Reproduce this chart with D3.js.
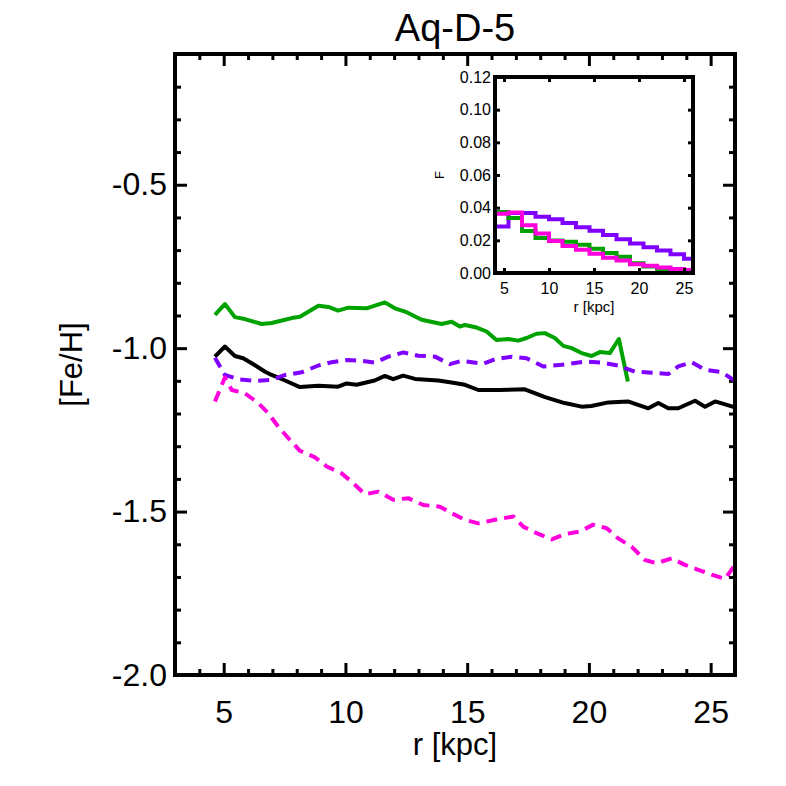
<!DOCTYPE html>
<html>
<head>
<meta charset="utf-8">
<script src="https://cdn.jsdelivr.net/npm/d3@7.9.0/dist/d3.min.js"></script>
<style>
  body { margin: 0; background: #fff; }
  svg { display: block; font-family: "Liberation Sans", Arial, sans-serif; }
  .domain { display: none; }
</style>
</head>
<body>
<svg id="chart" width="786" height="786"></svg>
<script>
// main panel: [Fe/H] profiles vs radius
const blackR = [4.64, 5.05, 5.46, 5.8, 6.15, 6.7, 6.97, 7.52, 8.13, 8.89, 9.7, 10.05, 10.46, 11.2, 11.62, 11.96, 12.37, 12.86, 13.81, 14.36, 14.91, 15.46, 16.28, 17.37, 18.2, 19.0, 19.7, 20.1, 20.8, 21.6, 22.44, 22.85, 23.26, 23.67, 24.36, 24.77, 25.18, 26.0];
const blackFeH = [-1.026, -0.995, -1.024, -1.031, -1.046, -1.072, -1.082, -1.099, -1.119, -1.115, -1.118, -1.108, -1.112, -1.099, -1.085, -1.095, -1.084, -1.094, -1.099, -1.105, -1.112, -1.128, -1.128, -1.126, -1.15, -1.168, -1.179, -1.177, -1.166, -1.163, -1.184, -1.168, -1.184, -1.184, -1.161, -1.179, -1.163, -1.181];

const greenR = [4.64, 5.05, 5.46, 5.87, 6.56, 6.97, 7.52, 7.79, 8.13, 8.89, 9.3, 9.7, 10.12, 10.87, 11.62, 12.03, 12.45, 13.13, 13.95, 14.36, 14.7, 14.91, 15.39, 15.8, 16.2, 16.69, 17.1, 17.44, 17.85, 18.19, 18.6, 18.95, 19.29, 19.7, 20.11, 20.45, 20.86, 21.23, 21.6];
const greenFeH = [-0.898, -0.865, -0.905, -0.911, -0.926, -0.923, -0.913, -0.908, -0.904, -0.87, -0.874, -0.885, -0.876, -0.878, -0.86, -0.878, -0.888, -0.913, -0.926, -0.919, -0.934, -0.929, -0.937, -0.949, -0.975, -0.972, -0.977, -0.969, -0.956, -0.954, -0.969, -0.993, -1.0, -1.015, -1.024, -1.012, -1.015, -0.972, -1.102];

const purpleR = [4.64, 5.05, 5.6, 6.29, 6.97, 7.52, 8.2, 8.89, 9.43, 10.12, 10.67, 11.21, 11.76, 12.38, 12.99, 13.68, 14.29, 14.77, 15.66, 16.14, 16.83, 17.44, 18.13, 18.88, 19.84, 20.52, 21.2, 21.89, 22.58, 23.26, 23.67, 24.22, 24.77, 25.45, 26.0];
const purpleFeH = [-1.029, -1.082, -1.095, -1.1, -1.097, -1.082, -1.074, -1.053, -1.043, -1.036, -1.039, -1.044, -1.026, -1.013, -1.023, -1.026, -1.049, -1.039, -1.048, -1.034, -1.026, -1.031, -1.056, -1.051, -1.041, -1.044, -1.053, -1.072, -1.075, -1.079, -1.056, -1.043, -1.066, -1.073, -1.1];

const magentaR = [4.64, 5.05, 5.33, 5.87, 6.42, 6.83, 7.24, 7.72, 8.13, 8.75, 9.23, 9.84, 10.32, 10.8, 11.35, 11.96, 12.58, 13.2, 13.88, 14.36, 14.91, 15.46, 16.14, 16.9, 17.3, 17.85, 18.47, 19.02, 19.63, 20.18, 20.73, 21.2, 21.75, 22.3, 22.78, 23.4, 23.94, 24.49, 25.04, 25.59, 26.0];
const magentaFeH = [-1.163, -1.09, -1.128, -1.138, -1.168, -1.199, -1.24, -1.281, -1.314, -1.334, -1.362, -1.383, -1.413, -1.447, -1.439, -1.464, -1.459, -1.48, -1.485, -1.505, -1.525, -1.536, -1.525, -1.515, -1.546, -1.566, -1.585, -1.569, -1.561, -1.54, -1.551, -1.582, -1.607, -1.648, -1.658, -1.643, -1.663, -1.678, -1.693, -1.706, -1.663];

const xMajor = [5, 10, 15, 20, 25];
const xMinor = [4, 6, 7, 8, 9, 11, 12, 13, 14, 16, 17, 18, 19, 21, 22, 23, 24, 26];
const yMajor = [-2.0, -1.5, -1.0, -0.5];
const yMinor = [-1.9, -1.8, -1.7, -1.6, -1.4, -1.3, -1.2, -1.1, -0.9, -0.8, -0.7, -0.6, -0.4, -0.3, -0.2];

// inset: radial distribution F (step histograms)
const histEdges = [4.0, 5.5, 7.0, 8.5, 10.0, 11.5, 13.0, 14.5, 16.0, 17.5, 19.0, 20.5, 22.0, 23.5, 25.0, 26.5];
const histPurple = [0.0285, 0.0367, 0.0367, 0.0344, 0.0329, 0.0306, 0.028, 0.0258, 0.0233, 0.0207, 0.018, 0.0157, 0.0138, 0.0115, 0.0088];
const histGreen = [0.0374, 0.0337, 0.0257, 0.0214, 0.0199, 0.0191, 0.0173, 0.0148, 0.0123, 0.01, 0.006, 0.004, 0.0024, 0.0009, 0.0006];
const histMagenta = [0.0362, 0.037, 0.0293, 0.0242, 0.0196, 0.0166, 0.0143, 0.0118, 0.0094, 0.0077, 0.0054, 0.0044, 0.0034, 0.0024, 0.0019];
const insetXTicks = [5, 10, 15, 20, 25];
const insetYTicks = [0.0, 0.02, 0.04, 0.06, 0.08, 0.10, 0.12];

const GREEN = '#00a200', PURPLE = '#8000ff', MAGENTA = '#ff00dc';

// IDL-style labels use a plain hyphen for the minus sign
const hyphen = f => v => f(v).replace('\u2212', '-');

const svg = d3.select('#chart');
svg.append('rect').attr('width', 786).attr('height', 786).attr('fill', '#fff');

// ---------- main panel ----------
const L = 175, R = 735, T = 54, B = 675;
const x = d3.scaleLinear().domain([3, 26]).range([L, R]);
const y = d3.scaleLinear().domain([-2.0, -0.1]).range([B, T]);

svg.append('clipPath').attr('id', 'clipMain')
  .append('rect').attr('x', L).attr('y', T).attr('width', R - L).attr('height', B - T);

function tickAxis(axisFn, scale, values, size, transform, fmt, pad, fontSize) {
  const g = svg.append('g').attr('transform', transform)
    .call(axisFn(scale).tickValues(values).tickSize(-size)
      .tickPadding(pad || 0).tickFormat(fmt || (() => '')));
  g.selectAll('.tick line').attr('stroke', '#000').attr('stroke-width', 3);
  g.selectAll('.tick text').attr('fill', '#000').attr('font-size', fontSize || 32);
  return g;
}

tickAxis(d3.axisBottom, x, xMajor, 12, `translate(0,${B})`, d3.format('d'), 25, 32);
tickAxis(d3.axisBottom, x, xMinor, 6, `translate(0,${B})`);
tickAxis(d3.axisTop, x, xMajor, 12, `translate(0,${T})`);
tickAxis(d3.axisTop, x, xMinor, 6, `translate(0,${T})`);
tickAxis(d3.axisLeft, y, yMajor, 12, `translate(${L},0)`, hyphen(d3.format('.1f')), 8, 32);
tickAxis(d3.axisLeft, y, yMinor, 6, `translate(${L},0)`);
tickAxis(d3.axisRight, y, yMajor, 12, `translate(${R},0)`);
tickAxis(d3.axisRight, y, yMinor, 6, `translate(${R},0)`);

const mainLine = d3.line().x(d => x(d[0])).y(d => y(d[1]));
const plotG = svg.append('g').attr('clip-path', 'url(#clipMain)');
const series = [
  { r: blackR, v: blackFeH, color: '#000', dash: null },
  { r: greenR, v: greenFeH, color: GREEN, dash: null },
  { r: purpleR, v: purpleFeH, color: PURPLE, dash: '11,7' },
  { r: magentaR, v: magentaFeH, color: MAGENTA, dash: '11,7' }
];
series.forEach(s => {
  plotG.append('path')
    .datum(d3.zip(s.r, s.v))
    .attr('d', mainLine)
    .attr('fill', 'none')
    .attr('stroke', s.color)
    .attr('stroke-width', 4)
    .attr('stroke-linejoin', 'round')
    .attr('stroke-dasharray', s.dash);
});

svg.append('rect').attr('x', L).attr('y', T).attr('width', R - L).attr('height', B - T)
  .attr('fill', 'none').attr('stroke', '#000').attr('stroke-width', 4);

svg.append('text').attr('x', (L + R) / 2).attr('y', 41).attr('text-anchor', 'middle')
  .attr('font-size', 38).text('Aq-D-5');
svg.append('text').attr('x', (L + R) / 2).attr('y', 755).attr('text-anchor', 'middle')
  .attr('font-size', 31).text('r [kpc]');
svg.append('text').attr('transform', `translate(82,${(T + B) / 2}) rotate(-90)`)
  .attr('text-anchor', 'middle').attr('font-size', 31).text('[Fe/H]');

// ---------- inset ----------
const iL = 495, iR = 693, iT = 77, iB = 273;
const ix = d3.scaleLinear().domain([4, 26]).range([iL, iR]);
const iy = d3.scaleLinear().domain([0, 0.12]).range([iB, iT]);

svg.append('clipPath').attr('id', 'clipInset')
  .append('rect').attr('x', iL).attr('y', iT - 2).attr('width', iR - iL).attr('height', iB - iT + 2);

const insetG = svg.append('g').attr('clip-path', 'url(#clipInset)');
const stepLine = d3.line().x(d => ix(d[0])).y(d => iy(d[1])).curve(d3.curveStepAfter);
[[histPurple, PURPLE], [histGreen, GREEN], [histMagenta, MAGENTA]].forEach(([vals, color]) => {
  const pts = [[histEdges[0], 0]].concat(vals.map((v, i) => [histEdges[i], v]))
    .concat([[histEdges[histEdges.length - 1], vals[vals.length - 1]]]);
  insetG.append('path').datum(pts).attr('d', stepLine)
    .attr('fill', 'none').attr('stroke', color).attr('stroke-width', 4);
});

function insetAxis(axisFn, scale, values, transform, fmt, pad) {
  const g = svg.append('g').attr('transform', transform)
    .call(axisFn(scale).tickValues(values).tickSize(-5)
      .tickPadding(pad || 0).tickFormat(fmt || (() => '')));
  g.selectAll('.tick line').attr('stroke', '#000').attr('stroke-width', 3);
  g.selectAll('.tick text').attr('fill', '#000').attr('font-size', 16);
}
insetAxis(d3.axisBottom, ix, insetXTicks, `translate(0,${iB})`, d3.format('d'), 10);
insetAxis(d3.axisTop, ix, insetXTicks, `translate(0,${iT})`);
insetAxis(d3.axisLeft, iy, insetYTicks, `translate(${iL},0)`, d3.format('.2f'), 4);
insetAxis(d3.axisRight, iy, insetYTicks, `translate(${iR},0)`);

svg.append('rect').attr('x', iL).attr('y', iT).attr('width', iR - iL).attr('height', iB - iT)
  .attr('fill', 'none').attr('stroke', '#000').attr('stroke-width', 4);

svg.append('text').attr('x', (iL + iR) / 2).attr('y', 312).attr('text-anchor', 'middle')
  .attr('font-size', 15).text('r [kpc]');
svg.append('text').attr('transform', `translate(444,${(iT + iB) / 2}) rotate(-90)`)
  .attr('text-anchor', 'middle').attr('font-size', 13).text('F');
</script>
</body>
</html>
